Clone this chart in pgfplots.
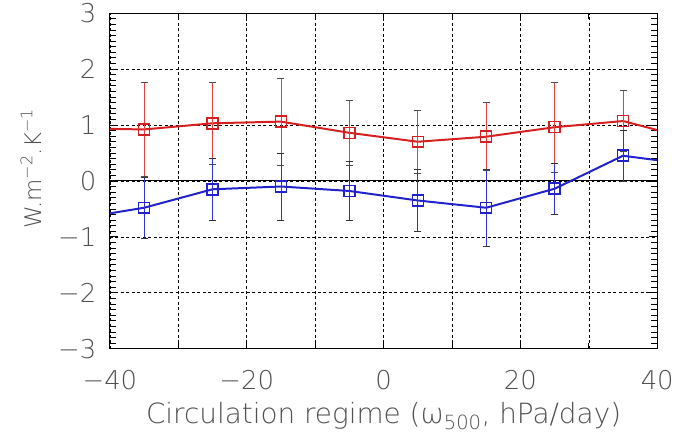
\documentclass[border=0pt]{standalone}
\usepackage{pgfplots}
\usepackage{pgfplotstable}
\pgfplotsset{compat=1.18}
\usepackage{fontspec}
\setmainfont{DejaVu Sans ExtraLight}
\definecolor{txt}{HTML}{505050}
\definecolor{rline}{HTML}{D42020}
\definecolor{bline}{HTML}{2222CC}
\definecolor{rbar}{HTML}{E04040}
\definecolor{bbar}{HTML}{3030D0}
\pgfplotstableread{
x y e
-35 0.92 0.84
-25 1.03 0.74
-15 1.06 0.78
-5 0.86 0.58
5 0.70 0.56
15 0.79 0.61
25 0.96 0.81
35 1.07 0.55
}\red
\pgfplotstableread{
x y e
-35 -0.48 0.55
-25 -0.15 0.55
-15 -0.10 0.60
-5 -0.18 0.52
5 -0.35 0.56
15 -0.48 0.69
25 -0.14 0.45
35 0.45 0.46
}\blue
\pgfplotstableread[row sep=\\]{y\\-2.9\\-2.8\\-2.7\\-2.6\\-2.5\\-2.4\\-2.3\\-2.2\\-2.1\\-1.9\\-1.8\\-1.7\\-1.6\\-1.5\\-1.4\\-1.3\\-1.2\\-1.1\\-0.9\\-0.8\\-0.7\\-0.6\\-0.5\\-0.4\\-0.3\\-0.2\\-0.1\\0.1\\0.2\\0.3\\0.4\\0.5\\0.6\\0.7\\0.8\\0.9\\1.1\\1.2\\1.3\\1.4\\1.5\\1.6\\1.7\\1.8\\1.9\\2.1\\2.2\\2.3\\2.4\\2.5\\2.6\\2.7\\2.8\\2.9\\}\minory
\begin{document}
\begin{tikzpicture}
\begin{axis}[
 at={(0,0)}, anchor=south west,
 scale only axis, width=548bp, height=336bp,
 xmin=-40, xmax=40, ymin=-3, ymax=3,
 xtick={-40,-20,0,20,40}, xticklabels={−40,−20,0,20,40},
 minor xtick={-30,-10,10,30},
 ytick={-3,-2,-1,0,1,2,3}, yticklabels={−3,−2,−1,0,1,2,3},
 xmajorgrids, xminorgrids, ymajorgrids,
 grid style={black, line width=0.6pt, dash pattern=on 3pt off 2.5pt},
 minor grid style={black, line width=0.6pt, dash pattern=on 3pt off 2.5pt},
 axis line style={black, line width=1pt},
 tick pos=both,
 tick align=inside,
 major tick length=8bp,
 minor tick length=6bp,
 every tick/.append style={black, line width=0.8pt},
 tick label style={font=\fontsize{26}{26}\selectfont, text=txt},
 yticklabel style={xshift=-10bp},
 xticklabel style={yshift=-18bp},
 xlabel={Circulation regime (ω\textsubscript{500}, hPa/day)},
 ylabel={W.m\textsuperscript{−2}.K\textsuperscript{−1}},
 xlabel style={font=\fontsize{28}{28}\selectfont, text=txt, yshift=-6bp},
 ylabel style={font=\fontsize{23}{23}\selectfont, text=txt, yshift=10bp, xshift=12bp},
 clip=true,
 clip marker paths=true,
]
\addplot[black, line width=1pt, forget plot] coordinates {(-40,0) (40,0)};
\addplot[only marks, mark=-, mark size=6.5bp, mark options={black, line width=0.7pt}, forget plot]
  table[x expr=-40, y=y] {\minory};
\addplot[only marks, mark=-, mark size=6.5bp, mark options={black, line width=0.7pt}, forget plot]
  table[x expr=40, y=y] {\minory};
\addplot[rline, line width=2pt] coordinates {(-40,0.93) (-35,0.92) (-25,1.03) (-15,1.06) (-5,0.86) (5,0.70) (15,0.79) (25,0.96) (35,1.07) (40,0.91)};
\addplot[bline, line width=2pt] coordinates {(-40,-0.58) (-35,-0.48) (-25,-0.15) (-15,-0.10) (-5,-0.18) (5,-0.35) (15,-0.48) (25,-0.14) (35,0.45) (40,0.37)};
\addplot[rline, only marks, mark=square, mark size=5.5bp, mark options={line width=1.5pt},
  error bars/.cd, y dir=both, y explicit,
  error bar style={rbar, line width=0.7pt},
  error mark options={rotate=90, black!70, mark size=3.5bp, line width=0.8pt}]
  table[x=x, y=y, y error=e] {\red};
\addplot[bline, only marks, mark=square, mark size=5.5bp, mark options={line width=1.5pt},
  error bars/.cd, y dir=both, y explicit,
  error bar style={bbar, line width=0.7pt},
  error mark options={rotate=90, black!80, mark size=3.5bp, line width=0.8pt}]
  table[x=x, y=y, y error=e] {\blue};
\end{axis}
\path (-110bp,-88bp) rectangle (567bp,348bp);
\end{tikzpicture}
\end{document}
